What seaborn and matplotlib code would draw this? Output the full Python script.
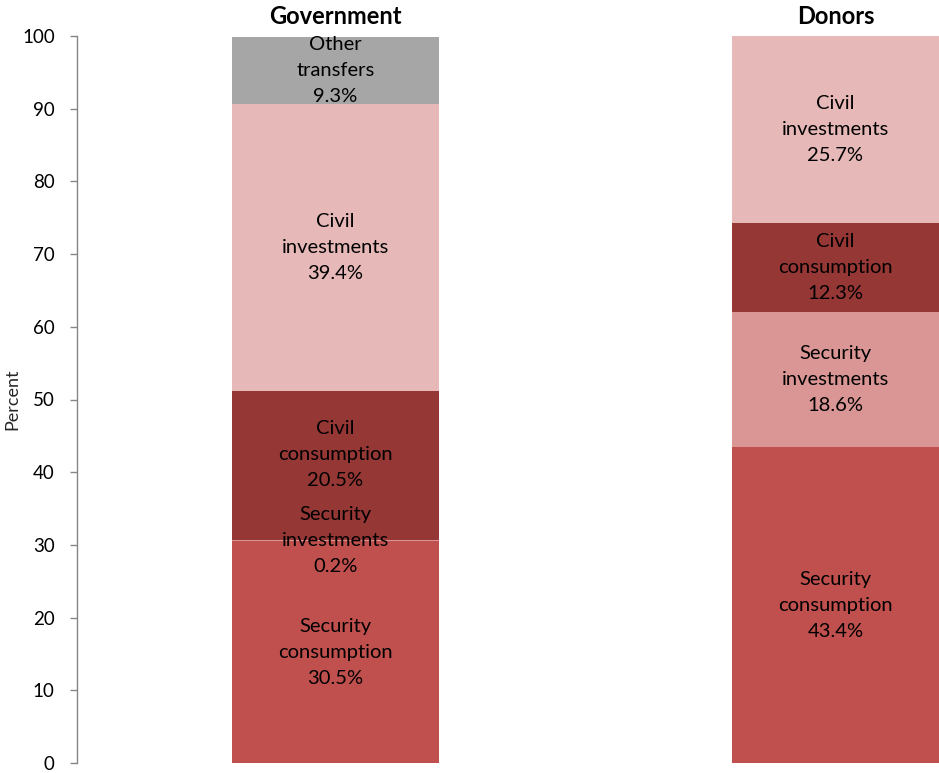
import matplotlib
matplotlib.use("Agg")
import matplotlib.pyplot as plt
import matplotlib.patheffects as pe
import numpy as np
import pandas as pd
import seaborn as sns

# Funding sources (columns) and spending segments (stacked bottom to top)
sources = ["Government", "Donors"]
segments = ["Security\nconsumption", "Security\ninvestments", "Civil\nconsumption",
            "Civil\ninvestments", "Other\ntransfers"]
government = [30.5, 0.2, 20.5, 39.4, 9.3]
donors = [43.4, 18.6, 12.3, 25.7, 0.0]
colors = ["#C0504D", "#D99694", "#953735", "#E6B9B8", "#A6A6A6"]
yticks = [0, 10, 20, 30, 40, 50, 60, 70, 80, 90, 100]

sns.set_theme(style="white")
plt.rcParams["font.family"] = ["Lato", "DejaVu Sans"]

fig = plt.figure(figsize=(9.39, 7.73), dpi=100)
ax = fig.add_axes([77 / 939, 10 / 773, 862 / 939, 727 / 773])

values = np.array([government, donors])
tops = np.cumsum(values, axis=1)
bottoms = tops - values

bar_width = 0.414
shadow = [pe.SimplePatchShadow(offset=(0, -1), shadow_rgbFace="#999999", alpha=0.35),
          pe.Normal()]

# Cumulative bars drawn from the tallest down give the stacked look
for k in reversed(range(len(segments))):
    df = pd.DataFrame({"source": sources, "top": tops[:, k]})
    sns.barplot(data=df, x="source", y="top", order=sources, color=colors[k],
                width=bar_width, saturation=1, ax=ax, linewidth=0,
                edgecolor="none")

for patch in ax.patches:
    patch.set_path_effects(shadow)

# Segment labels; the civil-consumption label in the government column is
# lifted slightly so it clears the tiny security-investments label below it
nudge_pts = {(0, 2): 8}
for i in range(len(sources)):
    for k, name in enumerate(segments):
        v = values[i, k]
        if v <= 0:
            continue
        mid = bottoms[i, k] + v / 2
        ax.annotate(f"{name}\n{v:.1f}%", xy=(i, mid),
                    xytext=(0, nudge_pts.get((i, k), 0)), textcoords="offset points",
                    ha="center", va="center", fontsize=14.5, color="black",
                    linespacing=1.65)

# Column headers
for i, s in enumerate(sources):
    ax.text(i, 1.011, s, transform=ax.get_xaxis_transform(), ha="center",
            va="bottom", fontsize=17, fontweight="bold", color="black")

ax.set_xlim(-0.517, 1.207)
ax.set_ylim(0, 100)
ax.set_yticks(yticks)
ax.set_yticklabels([str(t) for t in yticks], fontsize=13.5)
ax.set_xticks([])
ax.set_xlabel("")
ax.set_ylabel("Percent", fontsize=13, labelpad=6)
ax.yaxis.set_label_coords(-0.066, 0.5)

for side in ["top", "right", "bottom"]:
    ax.spines[side].set_visible(False)
ax.spines["left"].set_color("#868686")
ax.spines["left"].set_linewidth(1)
ax.tick_params(axis="y", direction="out", length=5, width=1, color="#868686",
               left=True, pad=11, labelcolor="black")

fig.savefig("out.png", dpi=100)
